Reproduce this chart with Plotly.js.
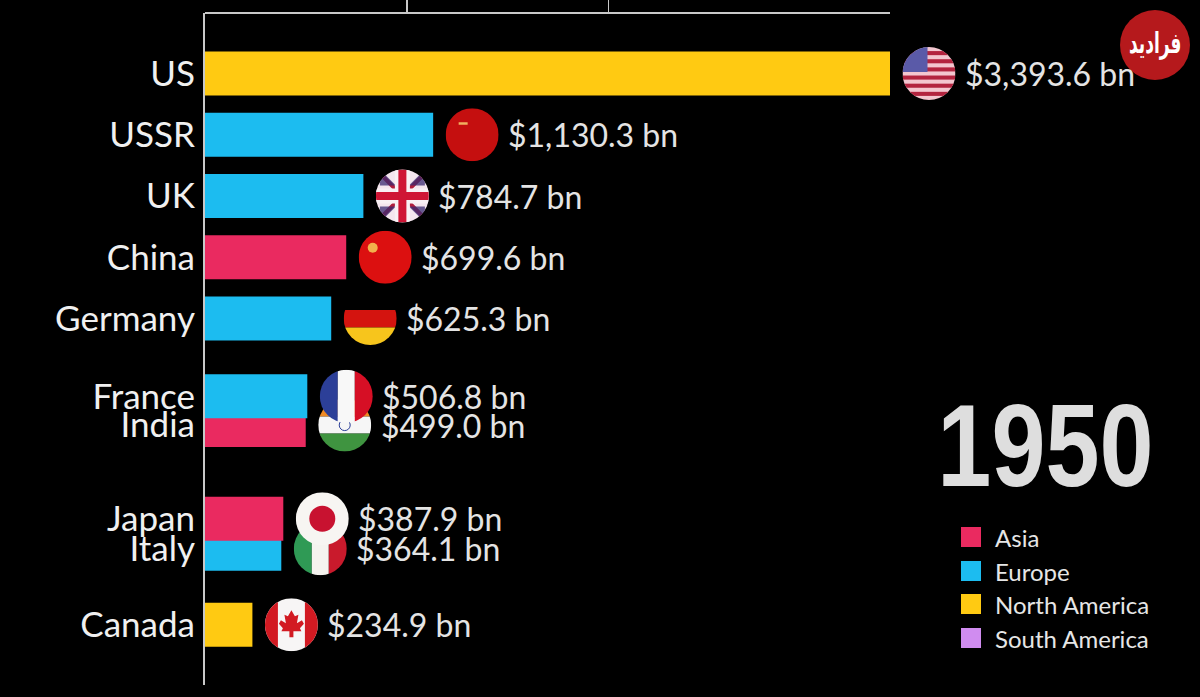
<!DOCTYPE html>
<html>
<head>
<meta charset="utf-8">
<script src="https://cdn.plot.ly/plotly-3.0.1.min.js"></script>
<style>html,body{margin:0;padding:0;background:#000;overflow:hidden}</style>
</head>
<body>
<div id="chart" style="width:1200px;height:697px"></div>
<script>
const countries = ["US","USSR","UK","China","Germany","France","India","Japan","Italy","Canada"];
const gdp = [3393.6,1130.3,784.7,699.6,625.3,506.8,499.0,387.9,378.0,234.9];
const valueLabels = ["$3,393.6 bn","$1,130.3 bn","$784.7 bn","$699.6 bn","$625.3 bn","$506.8 bn","$499.0 bn","$387.9 bn","$364.1 bn","$234.9 bn"];
const rowPos = [0,1,2,3,4,5.27,5.74,7.27,7.76,9];
const continent = ["North America","Europe","Europe","Asia","Europe","Europe","Asia","Asia","Europe","North America"];
const legendNames = ["Asia","Europe","North America","South America"];
const legendColors = ["#ea2a60","#1cbcf0","#ffca12","#d08cf0"];
const yearLabel = "1950";
const watermarkLabel = "فرادید";
const tickValues = [1000,2000];

const W=1200,H=697,mL=205,mR=0,mT=13,mB=12;
const pw=W-mL-mR, ph=H-mT-mB;
const pxPerUnit=685/3393.6;
const rowH=61.25;
const px=v=>v/pxPerUnit;
const paperX=p=>(p-mL)/pw;
const paperY=p=>1-(p-mT)/ph;
const colorOf=c=>legendColors[legendNames.indexOf(c)];
const svg=(body)=>"data:image/svg+xml;utf8,"+encodeURIComponent(
 '<svg xmlns="http://www.w3.org/2000/svg" width="106" height="106" viewBox="0 0 106 106"><defs><clipPath id="c"><circle cx="53" cy="53" r="53"/></clipPath></defs><g clip-path="url(#c)">'+body+'</g></svg>');
const r=(x,y,w,h,f)=>`<rect x="${x}" y="${y}" width="${w}" height="${h}" fill="${f}"/>`;
function usStripes(){let s=r(0,0,106,106,"#f3c6cf");for(let i=1;i<13;i+=2){s+=r(0,i*8.15,106,8.15,"#b3243f");}return s+r(0,0,50,50,"#5a5aa8");}
const flags={
 US:svg(usStripes()),
 USSR:svg(r(0,0,106,106,"#c50f0f")+r(26,28,18,5,"#f0b060")),
 UK:svg(r(0,0,106,106,"#f4e6ee")+'<path d="M0 0L106 106M106 0L0 106" stroke="#b01c3c" stroke-width="8"/>'+'<path d="M8 0L40 32H8zM98 0L66 32H98zM8 106L40 74H8zM98 106L66 74H98z" fill="#3a2a70" opacity=".75"/>'+r(0,38,106,30,"#f8f0f4")+r(38,0,30,106,"#f8f0f4")+r(0,45,106,16,"#cf1535")+r(45,0,16,106,"#cf1535")),
 China:svg(r(0,0,106,106,"#dc1010")+'<circle cx="28" cy="34" r="10" fill="#f2b24c"/>'),
 Germany:svg(r(0,0,106,36,"#000")+r(0,36,106,35,"#d4140f")+r(0,71,106,35,"#f7c51c")),
 France:svg(r(0,0,36,106,"#2c3f98")+r(36,0,34,106,"#f8f8f8")+r(70,0,36,106,"#d60f25")),
 India:svg(r(0,0,106,36,"#f08a24")+r(0,36,106,34,"#f6f6f6")+r(0,70,106,36,"#3f9440")+'<circle cx="53" cy="53" r="11" fill="none" stroke="#2c3f98" stroke-width="2"/>'),
 Japan:svg(r(0,0,106,106,"#f7f5f2")+'<circle cx="53" cy="53" r="26" fill="#c81230"/>'),
 Italy:svg(r(0,0,36,106,"#2f9a55")+r(36,0,34,106,"#f5f3ef")+r(70,0,36,106,"#c91a2c")),
 Canada:svg(r(0,0,106,106,"#f7f5f5")+r(0,0,26,106,"#d21a22")+r(80,0,26,106,"#d21a22")+'<path d="M53 24L60 36L67 33L64 50L74 44L78 51L70 60L73 66H57V78H49V66H33L36 60L28 51L32 44L42 50L39 33L46 36Z" fill="#d21a22"/>')
};
const labelFont={family:"Lato, sans-serif",size:35,color:"#f0f0f0"};

const idx=countries.map((_,i)=>i).reverse();
const trace={type:"bar",orientation:"h",
 x:idx.map(i=>gdp[i]),y:idx.map(i=>rowPos[i]),
 width:44/rowH,
 marker:{color:idx.map(i=>colorOf(continent[i])),line:{width:0}},
 hoverinfo:"x+y",showlegend:false};

const images=countries.map((c,i)=>({source:flags[c],xref:"x",yref:"y",
  x:gdp[i]+px(39),y:rowPos[i],sizex:px(53),sizey:53/rowH,
  xanchor:"center",yanchor:"middle",sizing:"stretch",layer:"above"})).reverse();

const annotations=countries.map((c,i)=>({xref:"x",yref:"y",x:gdp[i],y:rowPos[i],xshift:73,
  text:valueLabels[i],showarrow:false,xanchor:"left",yanchor:"middle",
  font:{family:"Lato, sans-serif",size:32,color:"#e4e4e4"}}));
annotations.push({xref:"paper",yref:"paper",x:paperX(1045),y:paperY(445),text:yearLabel,showarrow:false,
  xanchor:"center",yanchor:"middle",font:{family:"'Liberation Sans', sans-serif",size:120,color:"#dedede",weight:700}});
const legendY=[537,571,604,638];
legendNames.forEach((n,i)=>annotations.push({xref:"paper",yref:"paper",x:paperX(993),y:paperY(legendY[i]),text:n,showarrow:false,
  xanchor:"left",yanchor:"middle",font:{family:"Lato, sans-serif",size:24,color:"#e6e6e6"}}));
annotations.push({xref:"paper",yref:"paper",x:paperX(1155),y:paperY(44),text:watermarkLabel,showarrow:false,
  xanchor:"center",yanchor:"middle",font:{family:"'DejaVu Sans', sans-serif",size:17,color:"#fff",weight:700}});

const shapes=[
 {type:"line",xref:"x",yref:"paper",x0:0,x1:gdp[0],y0:1,y1:1,line:{color:"#c8c8c8",width:2}},
 {type:"circle",xref:"paper",yref:"paper",x0:paperX(1120),x1:paperX(1190),y0:paperY(80),y1:paperY(10),fillcolor:"#b5191c",line:{width:0}}
];
legendNames.forEach((n,i)=>shapes.push({type:"rect",xref:"paper",yref:"paper",
  x0:paperX(961),x1:paperX(981),y0:paperY(legendY[i]-10),y1:paperY(legendY[i]+10),
  fillcolor:legendColors[i],line:{width:0}}));

const layout={
 width:W,height:H,paper_bgcolor:"#000",plot_bgcolor:"#000",
 margin:{l:mL,r:mR,t:mT,b:mB,pad:0},
 barmode:"overlay",showlegend:false,
 xaxis:{range:[0,pw/pxPerUnit],side:"top",showgrid:false,zeroline:false,showline:false,
   tickmode:"array",tickvals:tickValues,ticks:"outside",ticklen:13,tickwidth:1.5,tickcolor:"#c8c8c8",showticklabels:false},
 yaxis:{range:[(ph+mT-73.5)/rowH,(mT-73.5)/rowH],showgrid:false,zeroline:false,showline:true,linecolor:"#c8c8c8",linewidth:2,
   tickmode:"array",tickvals:rowPos,ticktext:countries,ticks:"outside",ticklen:1,tickcolor:"rgba(0,0,0,0)",tickfont:labelFont},
 images,annotations,shapes
};
Plotly.newPlot("chart",[trace],layout,{displayModeBar:false,staticPlot:true}).then(()=>{
  document.querySelectorAll(".annotation-text").forEach(t=>{
    const s=t.textContent;
    let tf=null;
    if(s===yearLabel) tf="scale(0.81,0.97)";
    if(s===watermarkLabel) tf="scale(1,1.7)";
    if(tf){t.style.transformBox="fill-box";t.style.transformOrigin="center";t.style.transform=tf;}
  });
});
</script>
</body>
</html>
